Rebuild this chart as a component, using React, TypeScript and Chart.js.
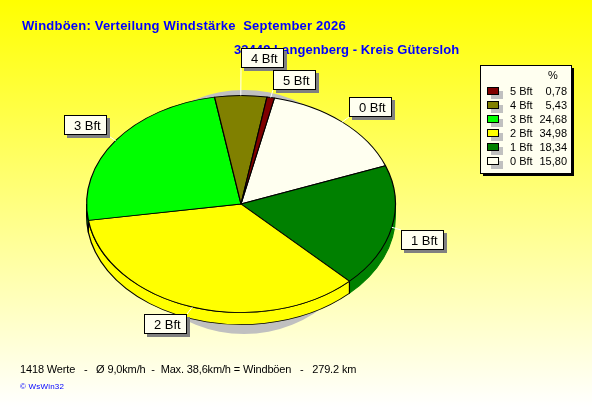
import Chart from 'chart.js/auto';
import { useEffect, useRef } from 'react';

const labels = ['0 Bft', '1 Bft', '2 Bft', '3 Bft', '4 Bft', '5 Bft'];
const percents = [15.8, 18.34, 34.98, 24.68, 5.43, 0.78];
const colors = ['#fffff0', '#008000', '#ffff00', '#00ff00', '#808000', '#800000'];
const rimLines = ['#000', '#008000', '#000', '#000', '#000', '#000'];

const TITLE = 'Windböen: Verteilung Windstärke  September 2026';
const SUBTITLE = '33449 Langenberg - Kreis Gütersloh';
const FOOTER = '1418 Werte   -   Ø 9,0km/h  -  Max. 38,6km/h = Windböen   -   279.2 km';
const COPYRIGHT = '© WsWin32';

const FONT = '"Liberation Sans", Arial, sans-serif';
const BLUE = '#0000ff';
const CREAM = '#fffff0';
const SQUASH = 0.703; // pie is drawn as ellipse
const DEPTH = 12;
const START_DEG = 12.5;

// callout boxes: left, top and the corner the leader line goes to
const boxes = [
  { x: 349, y: 97, lx: 349, ly: 117 },
  { x: 401, y: 230, lx: 401, ly: 230 },
  { x: 144, y: 314, lx: 187, ly: 314 },
  { x: 64, y: 115, lx: 107, ly: 135 },
  { x: 241, y: 48, lx: 241, ly: 68 },
  { x: 273, y: 70, lx: 273, ly: 90 },
];

const text = (
  ctx: CanvasRenderingContext2D,
  str: string,
  x: number,
  y: number,
  font: string,
  color = '#000',
  align: CanvasTextAlign = 'left',
  spacing = '0px',
) => {
  ctx.font = font;
  ctx.fillStyle = color;
  ctx.textAlign = align;
  ctx.textBaseline = 'alphabetic';
  (ctx as any).letterSpacing = spacing;
  ctx.fillText(str, x, y);
  (ctx as any).letterSpacing = '0px';
};

const squash = (ctx: CanvasRenderingContext2D, cy: number) => {
  ctx.translate(0, cy);
  ctx.scale(1, SQUASH);
  ctx.translate(0, -cy);
};

const drawLegend = (ctx: CanvasRenderingContext2D) => {
  ctx.fillStyle = '#000';
  ctx.fillRect(483, 68, 91, 108);
  ctx.fillStyle = CREAM;
  ctx.fillRect(480.5, 65.5, 91, 108);
  ctx.strokeStyle = '#000';
  ctx.lineWidth = 1;
  ctx.strokeRect(480.5, 65.5, 91, 108);
  text(ctx, '%', 553, 79, `11px ${FONT}`, '#000', 'center');
  for (let i = labels.length - 1, row = 0; i >= 0; i -= 1, row += 1) {
    const y = 87 + row * 14;
    ctx.fillStyle = '#c0c0c0';
    ctx.fillRect(491, y + 4, 12, 8);
    ctx.fillStyle = colors[i];
    ctx.fillRect(487.5, y + 0.5, 11, 7);
    ctx.strokeRect(487.5, y + 0.5, 11, 7);
    text(ctx, labels[i], 510, y + 8, `11px ${FONT}`);
    text(ctx, percents[i].toFixed(2).replace('.', ','), 567, y + 8, `11px ${FONT}`, '#000', 'right');
  }
};

const piePlugin = {
  id: 'flatPie',
  beforeDraw(chart: any) {
    const { ctx, width, height } = chart;
    const bg = ctx.createLinearGradient(0, 0, 0, height);
    bg.addColorStop(0, '#ffff00');
    bg.addColorStop(1, '#ffffff');
    ctx.fillStyle = bg;
    ctx.fillRect(0, 0, width, height);
    text(ctx, TITLE, 22, 30, `bold 13px ${FONT}`, BLUE, 'left', '0.21px');
    text(ctx, SUBTITLE, 234, 54, `bold 13px ${FONT}`, BLUE, 'left', '0.06px');
    text(ctx, FOOTER, 20, 373, `11px ${FONT}`, '#000', 'left', '-0.15px');
    text(ctx, COPYRIGHT, 20, 389, `8px ${FONT}`, BLUE, 'left', '0.2px');
    drawLegend(ctx);
  },
  beforeDatasetsDraw(chart: any) {
    const { ctx } = chart;
    const arcs = chart.getDatasetMeta(0).data;
    const { x, y, outerRadius } = arcs[0];

    // grey shadow behind the pie
    ctx.fillStyle = '#c0c0c0';
    ctx.beginPath();
    ctx.ellipse(244, 212, 126, 122, 0, 0, Math.PI * 2);
    ctx.fill();

    ctx.save();
    squash(ctx, y);

    // side of the pie, only the part facing down
    arcs.forEach((arc: any, i: number) => {
      const from = Math.max(arc.startAngle, 0);
      const to = Math.min(arc.endAngle, Math.PI);
      if (to <= from) return;
      ctx.beginPath();
      ctx.arc(x, y, outerRadius, from, to);
      ctx.arc(x, y + DEPTH / SQUASH, outerRadius, to, from, true);
      ctx.closePath();
      ctx.fillStyle = colors[i];
      ctx.fill();
      ctx.strokeStyle = rimLines[i];
      ctx.lineWidth = 1.2;
      ctx.stroke();
    });
  },
  afterDatasetsDraw(chart: any) {
    const { ctx } = chart;
    ctx.restore();
    const arcs = chart.getDatasetMeta(0).data;

    arcs.forEach((arc: any, i: number) => {
      const mid = (arc.startAngle + arc.endAngle) / 2;
      const px = arc.x + Math.cos(mid) * arc.outerRadius;
      const py = arc.y + Math.sin(mid) * arc.outerRadius * SQUASH;
      const box = boxes[i];

      ctx.strokeStyle = '#ffffff';
      ctx.lineWidth = 1;
      ctx.beginPath();
      ctx.moveTo(px, py);
      ctx.lineTo(box.lx, box.ly);
      ctx.stroke();

      ctx.fillStyle = '#808080';
      ctx.fillRect(box.x + 3, box.y + 3, 43, 20);
      ctx.fillStyle = CREAM;
      ctx.fillRect(box.x + 0.5, box.y + 0.5, 42, 19);
      ctx.strokeStyle = '#000';
      ctx.strokeRect(box.x + 0.5, box.y + 0.5, 42, 19);
      text(ctx, labels[i], box.x + 10, box.y + 15, `13px ${FONT}`);
    });
  },
};

const App = () => {
  const chartRef = useRef<HTMLCanvasElement | null>(null);
  useEffect(() => {
    if (chartRef.current === null) return () => {};
    document.body.style.margin = '0';
    const aChart = new Chart(chartRef.current, {
      type: 'pie',
      plugins: [piePlugin as any],
      data: {
        labels,
        datasets: [{
          data: percents,
          backgroundColor: colors,
          borderColor: '#000',
          borderWidth: 1.2,
        }],
      },
      options: {
        responsive: false,
        animation: false,
        devicePixelRatio: 1,
        rotation: START_DEG,
        layout: { padding: { left: 86, right: 196, top: 49, bottom: 48 } },
        plugins: {
          legend: { display: false },
          title: { display: false },
          tooltip: { enabled: false },
        },
      } as any,
    });
    return () => {
      aChart.destroy();
    };
  }, []);

  return <canvas ref={chartRef} width={592} height={407} style={{ display: 'block' }} />;
};

export default App;
